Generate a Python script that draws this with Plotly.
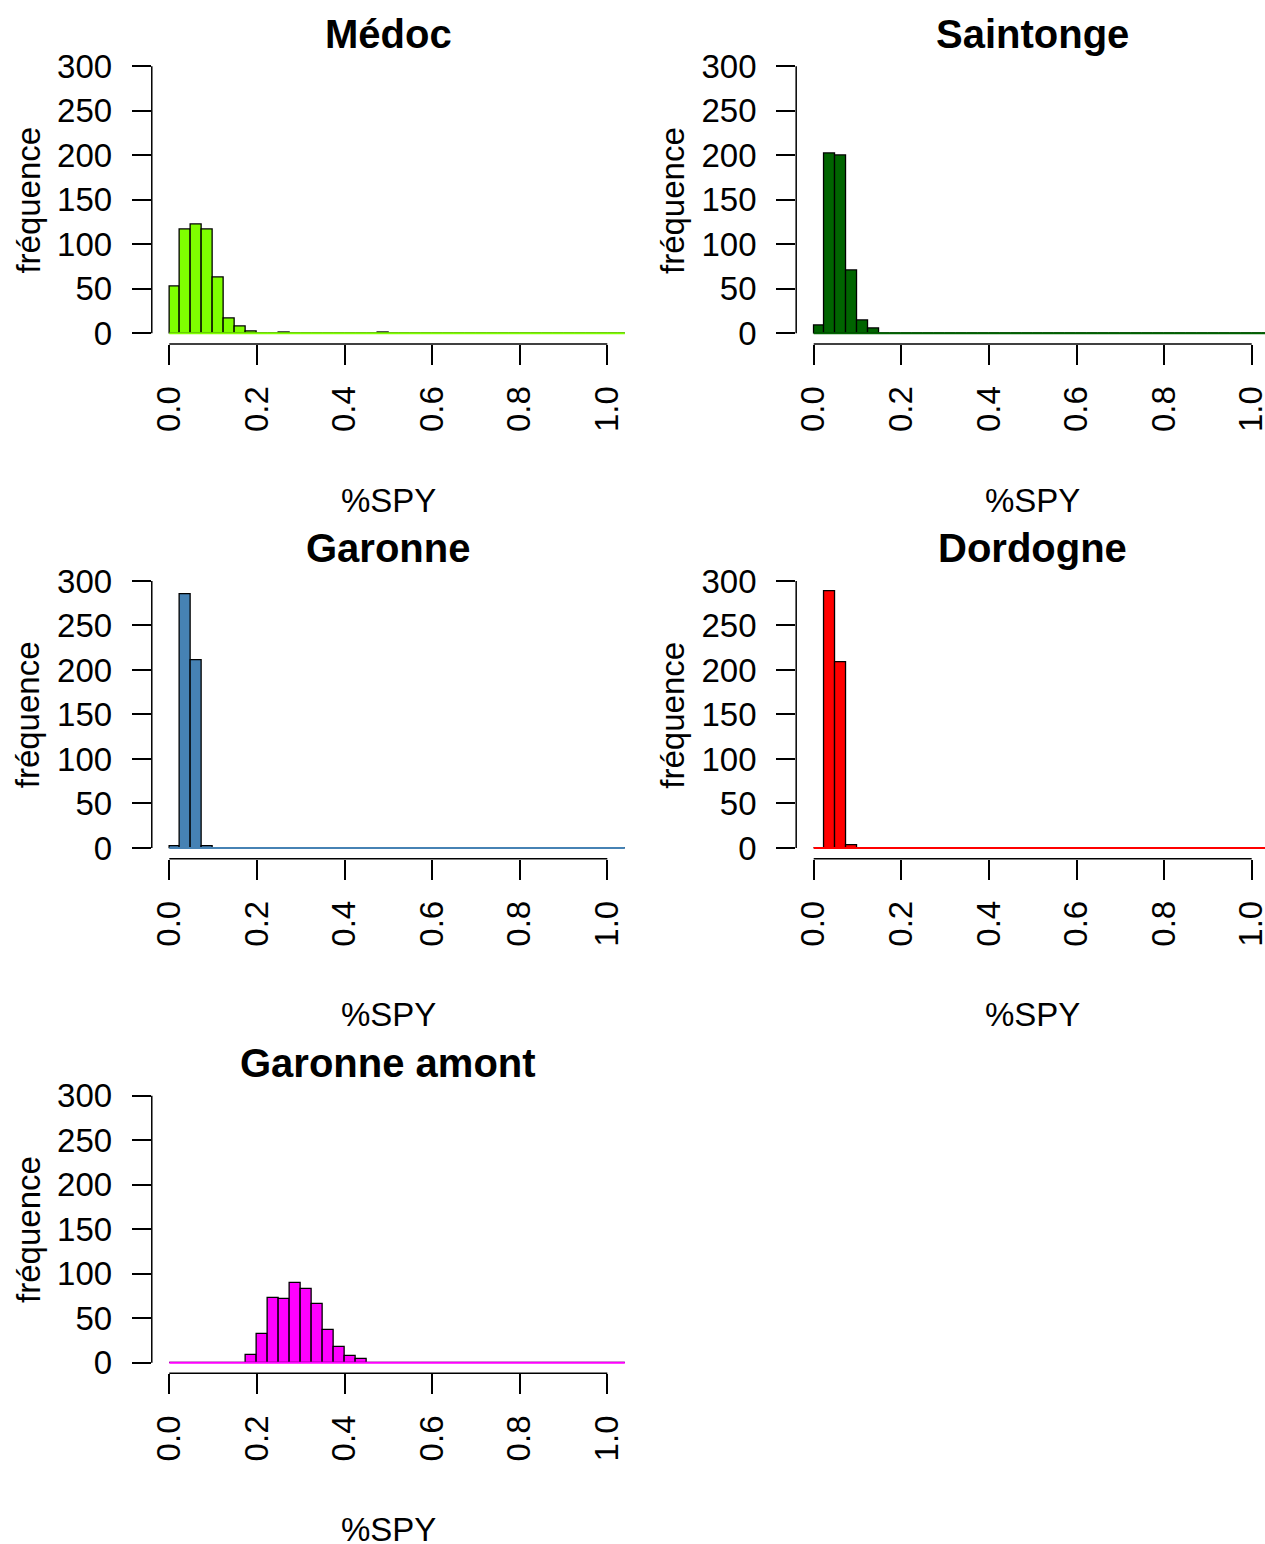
import plotly.graph_objects as go

# ---- data (counts per 0.025-wide bin of %SPY, starting at 0) ----
bin_width = 0.025
n_bins = 42  # bins from 0 to 1.05

titles = ["Médoc", "Saintonge", "Garonne", "Dordogne", "Garonne amont"]
colors = ["#7FFF00", "#006400", "#4682B4", "#FF0000", "#FF00FF"]

medoc = [53, 117, 122, 117, 63, 16, 8, 2, 0, 0, 1, 0, 0, 0, 0, 0, 0, 0, 0, 1]
saintonge = [9, 202, 200, 70, 14, 5]
garonne = [2, 285, 211, 2]
dordogne = [0, 288, 209, 3]
garonne_amont = [0, 0, 0, 0, 0, 0, 0, 9, 32, 73, 72, 90, 83, 66, 37, 18, 8, 4]

series = [medoc, saintonge, garonne, dordogne, garonne_amont]

y_ticks = [0, 50, 100, 150, 200, 250, 300]
x_ticks = [0.0, 0.2, 0.4, 0.6, 0.8, 1.0]
x_tick_labels = ["0.0", "0.2", "0.4", "0.6", "0.8", "1.0"]
x_label = "%SPY"
y_label = "fréquence"

# ---- layout geometry (pixels) ----
W, H = 1265, 1544
FONT = "Liberation Sans Narrow, Arial Narrow, Liberation Sans, Arial, sans-serif"
FS = 33
px_per_x = 438.0
px_per_y = 0.89
row_step = H / 3.0
col_zero = [169.3, 813.7]

fig = go.Figure()
layout = dict(width=W, height=H, margin=dict(l=0, r=0, t=0, b=0, autoexpand=False),
              paper_bgcolor="white", plot_bgcolor="white", showlegend=False,
              bargap=0, barmode="overlay")
shapes = []
annotations = []

edges = [i * bin_width for i in range(n_bins + 1)]
centers = [(edges[i] + edges[i + 1]) / 2 for i in range(n_bins)]

for k, (title, col, vals) in enumerate(zip(titles, colors, series)):
    r, c = divmod(k, 2)
    idx = k + 1
    xa = "x" if idx == 1 else f"x{idx}"
    ya = "y" if idx == 1 else f"y{idx}"
    counts = list(vals) + [0] * (n_bins - len(vals))

    zero_px = 333.3 + row_step * r
    top_px = zero_px - 312 * px_per_y
    bot_px = zero_px + 12 * px_per_y
    x0px = col_zero[c] - 0.04 * px_per_x
    x1px = min(col_zero[c] + 1.04 * px_per_x, W)
    xr = [-0.04, (x1px - col_zero[c]) / px_per_x]

    # baseline (zero-height bins)
    fig.add_trace(go.Scatter(x=[edges[0], edges[-1]], y=[0, 0], mode="lines",
                             line=dict(color=col, width=2), xaxis=xa, yaxis=ya,
                             hoverinfo="skip"))
    fig.add_trace(go.Bar(x=centers, y=counts, width=bin_width,
                         marker=dict(color=col, line=dict(color="black", width=1.3)),
                         xaxis=xa, yaxis=ya))

    xkey = "xaxis" if idx == 1 else f"xaxis{idx}"
    ykey = "yaxis" if idx == 1 else f"yaxis{idx}"
    layout[xkey] = dict(domain=[x0px / W, x1px / W], range=xr, anchor=ya,
                        tickvals=x_ticks, ticktext=x_tick_labels, tickangle=-90,
                        ticks="outside", ticklen=20, tickwidth=1.5, tickcolor="black",
                        showline=False, showgrid=False, zeroline=False,
                        automargin=False, ticklabeloverflow="allow",
                        ticklabelstandoff=8,
                        tickfont=dict(family=FONT, size=FS, color="black"))
    layout[ykey] = dict(domain=[1 - bot_px / H, 1 - top_px / H], range=[-12, 312],
                        anchor=xa, tickvals=y_ticks, ticks="outside", ticklen=19,
                        tickwidth=1.5, tickcolor="black", showline=False,
                        showgrid=False, zeroline=False, ticklabelstandoff=13,
                        automargin=False, ticklabeloverflow="allow",
                        tickfont=dict(family=FONT, size=FS, color="black"))

    # R-style axis lines spanning only the tick range
    shapes.append(dict(type="line", xref=f"{xa} domain", yref=ya, x0=0, x1=0,
                       y0=y_ticks[0], y1=y_ticks[-1], line=dict(color="black", width=1.5)))
    shapes.append(dict(type="line", xref=xa, yref=f"{ya} domain", x0=x_ticks[0],
                       x1=x_ticks[-1], y0=0, y1=0, line=dict(color="black", width=1.5)))

    cx = (col_zero[c] + 0.5 * px_per_x) / W
    annotations.append(dict(text=f"<b>{title}</b>", xref="paper", yref="paper",
                            x=cx, y=1 - (top_px - 22) / H, xanchor="center",
                            yanchor="middle", showarrow=False,
                            font=dict(family=FONT, size=40, color="black")))
    annotations.append(dict(text=x_label, xref="paper", yref="paper",
                            x=cx, y=1 - (zero_px + 167) / H, xanchor="center",
                            yanchor="middle", showarrow=False,
                            font=dict(family=FONT, size=FS, color="black")))
    annotations.append(dict(text=y_label, xref="paper", yref="paper",
                            x=(col_zero[c] - 141) / W, y=1 - (zero_px - 133) / H,
                            xanchor="center", yanchor="middle", textangle=-90,
                            showarrow=False,
                            font=dict(family=FONT, size=FS, color="black")))

layout["shapes"] = shapes
layout["annotations"] = annotations
fig.update_layout(**layout)
fig.write_html("out.html", config={"displayModeBar": False},
               post_script="document.body.style.margin='0';document.body.style.overflow='hidden';")
